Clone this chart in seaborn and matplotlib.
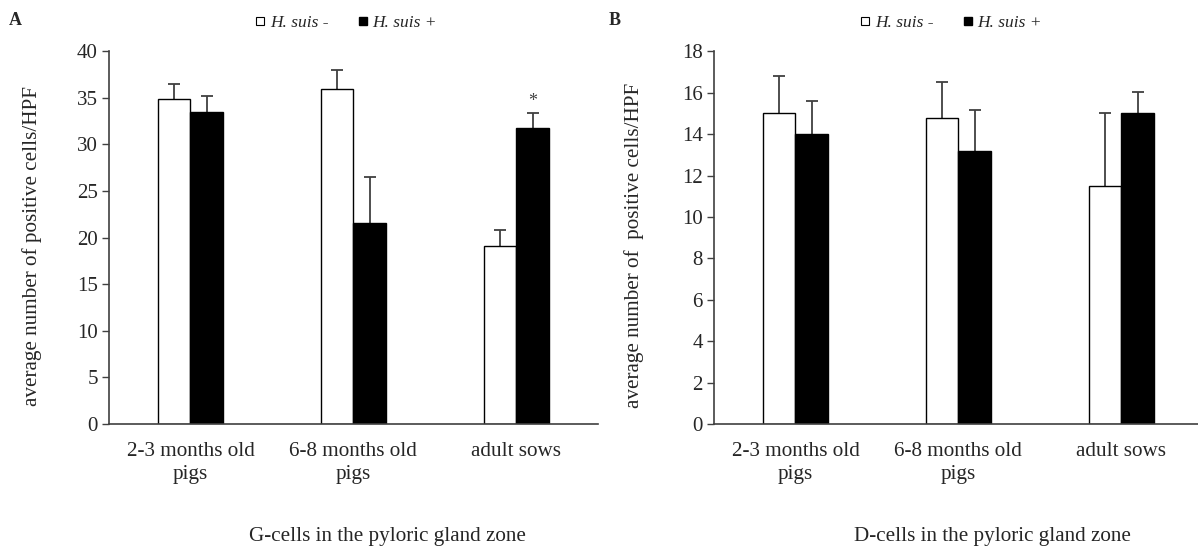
import pandas as pd
import numpy as np
from matplotlib import pyplot as plt
from matplotlib.lines import Line2D
import seaborn as sns

sns.set_style("white")
plt.rcParams['font.family'] = ['Liberation Serif', 'DejaVu Serif']

groups = ["2-3 months old\npigs", "6-8 months old\npigs", "adult sows"]
status = ["H. suis -", "H. suis +"]

# G-cells (panel A)
g_neg = [34.9, 36.0, 19.1]
g_pos = [33.5, 21.6, 31.8]
g_neg_err = [1.6, 2.0, 1.7]
g_pos_err = [1.7, 4.9, 1.6]

# D-cells (panel B)
d_neg = [15.0, 14.8, 11.5]
d_pos = [14.0, 13.2, 15.0]
d_neg_err = [1.8, 1.7, 3.5]
d_pos_err = [1.6, 1.95, 1.05]

fig = plt.figure(figsize=(11.98, 5.52), dpi=100)
axA = fig.add_axes([0.091, 0.232, 0.408, 0.675])
axB = fig.add_axes([0.596, 0.232, 0.408, 0.675])


def panel(ax, neg, pos, neg_err, pos_err, ymax, ystep, ylabel, xlabel, ylab_x):
    df = pd.DataFrame({
        "group": groups * 2,
        "status": [status[0]] * 3 + [status[1]] * 3,
        "value": neg + pos,
    })
    sns.barplot(data=df, x="group", y="value", hue="status", order=groups,
                hue_order=status, palette={status[0]: "white", status[1]: "black"},
                edgecolor="black", linewidth=1, width=0.4, errorbar=None,
                legend=False, ax=ax, zorder=2)
    # error bars drawn behind the bars so only the upper half shows
    for cont, err in zip(ax.containers, [neg_err, pos_err]):
        xs = [b.get_x() + b.get_width() / 2 for b in cont]
        hs = [b.get_height() for b in cont]
        ax.errorbar(xs, hs, yerr=err, fmt="none", ecolor="#404040",
                    elinewidth=1.3, capsize=4, capthick=1.3, zorder=1)
    ax.set_xlim(-0.5, 2.5)
    ax.set_ylim(0, ymax)
    ax.set_yticks(np.arange(0, ymax + 0.1, ystep))
    ax.set_xticks([0.5, 1.5], minor=True)
    ax.tick_params(axis="x", which="major", length=0, labelsize=15.2, pad=13)
    for t in ax.get_xticklabels():
        t.set_linespacing(1.32)
    ax.tick_params(axis="x", which="minor", direction="in", length=5,
                   color="#404040", width=1)
    ax.tick_params(axis="y", direction="out", length=5, color="#404040",
                   width=1, labelsize=15, left=True, pad=3)
    for s in ["top", "right"]:
        ax.spines[s].set_visible(False)
    for s in ["left", "bottom"]:
        ax.spines[s].set_color("#404040")
        ax.spines[s].set_linewidth(1.2)
        ax.spines[s].set_zorder(3)
    ax.set_ylabel(ylabel, fontsize=15.2)
    ax.yaxis.label.set_va("center")
    ax.yaxis.set_label_coords(ylab_x, 0.478)
    ax.set_xlabel(xlabel, fontsize=15.2)
    ax.xaxis.label.set_va("center")
    ax.xaxis.set_label_coords(0.57, -0.303)
    handles = [
        Line2D([], [], marker="s", linestyle="none", markersize=6,
               markerfacecolor="white", markeredgecolor="black", markeredgewidth=0.8),
        Line2D([], [], marker="s", linestyle="none", markersize=6,
               markerfacecolor="black", markeredgecolor="black"),
    ]
    ax.legend(handles, status, loc="center", bbox_to_anchor=(0.485, 1.075),
              ncol=2, frameon=False, handlelength=0.6, handletextpad=0.25,
              columnspacing=1.7, prop={"style": "italic", "size": 12.5})


panel(axA, g_neg, g_pos, g_neg_err, g_pos_err, 40, 5,
      "average number of positive cells/HPF", "G-cells in the pyloric gland zone",
      -0.157)
panel(axB, d_neg, d_pos, d_neg_err, d_pos_err, 18, 2,
      "average number of  positive cells/HPF", "D-cells in the pyloric gland zone",
      -0.164)

# significance mark
star_bar = axA.containers[1][2]
axA.text(star_bar.get_x() + star_bar.get_width() / 2, g_pos[2] + g_pos_err[2] + 0.3,
         "*", ha="center", va="bottom", fontsize=13, color="#404040")

fig.text(0.007, 0.962, "A", fontsize=13, fontweight="bold", va="center")
fig.text(0.508, 0.962, "B", fontsize=13, fontweight="bold", va="center")

fig.savefig("out.png", dpi=100)
